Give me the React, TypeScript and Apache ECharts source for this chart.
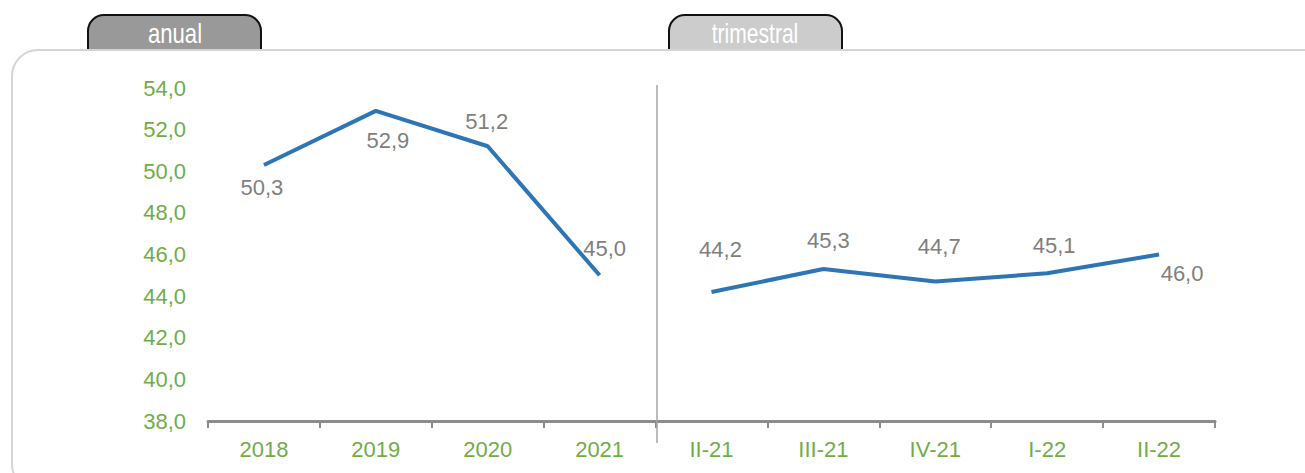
import React, { useEffect, useRef } from "react";
import * as echarts from "echarts";

const categories = ["2018", "2019", "2020", "2021", "II-21", "III-21", "IV-21", "I-22", "II-22"];
const annualValues = [50.3, 52.9, 51.2, 45.0, null, null, null, null, null];
const quarterlyValues = [null, null, null, null, 44.2, 45.3, 44.7, 45.1, 46.0];
const labelOffsets: number[][] = [
  [-2, 22], [12, 30], [-1, -25], [5, -27],
  [9, -42], [5, -29], [4, -35], [7, -28], [23, 19],
];
const yTicks = { min: 38, max: 54, interval: 2 };

const fmt = (v: number) => v.toFixed(1).replace(".", ",");

function buildData(vals: (number | null)[]) {
  return vals.map((v, i) =>
    v === null
      ? null
      : { value: v, label: { offset: labelOffsets[i] } }
  );
}

const FONT = "Liberation Sans, Arial, sans-serif";

export default function App() {
  const ref = useRef<HTMLDivElement>(null);
  useEffect(() => {
    if (!ref.current) return;
    const chart = echarts.init(ref.current, null, { renderer: "svg" });
    const green = "#70ad47";
    const seriesCommon = {
      type: "line" as const,
      symbol: "circle",
      symbolSize: 2,
      showSymbol: true,
      itemStyle: { color: "rgba(0,0,0,0)", borderWidth: 0 },
      lineStyle: { color: "#2e75b6", width: 4 },
      connectNulls: false,
      z: 5,
      label: {
        show: true,
        position: "inside",
        color: "#7f7f7f",
        fontSize: 22,
        fontFamily: FONT,
        formatter: (p: any) => fmt(p.value),
      },
    };
    chart.setOption({
      animation: false,
      grid: { left: 208, right: 90, top: 88, bottom: 52 },
      xAxis: {
        type: "category",
        data: categories,
        axisLine: { lineStyle: { color: "#8c8c8c", width: 3 } },
        axisTick: { show: true, length: 7, lineStyle: { color: "#8c8c8c", width: 2 } },
        axisLabel: {
          color: green,
          fontSize: 22,
          margin: 17,
          fontFamily: FONT,
        },
      },
      yAxis: {
        type: "value",
        min: yTicks.min,
        max: yTicks.max,
        interval: yTicks.interval,
        axisLine: { show: false },
        axisTick: { show: false },
        splitLine: { show: false },
        axisLabel: {
          color: green,
          fontSize: 22,
          margin: 22,
          fontFamily: FONT,
          formatter: (v: number) => fmt(v),
        },
      },
      graphic: [
        {
          type: "rect",
          z: -3,
          shape: { x: 88, y: 15, width: 173, height: 50, r: [16, 16, 0, 0] },
          style: { fill: "#999999", stroke: "#111111", lineWidth: 2 },
        },
        {
          type: "rect",
          z: -3,
          shape: { x: 669, y: 15, width: 173, height: 50, r: [16, 16, 0, 0] },
          style: { fill: "#cccccc", stroke: "#111111", lineWidth: 2 },
        },
        {
          type: "rect",
          z: -2,
          shape: { x: 12, y: 50, width: 1320, height: 440, r: 26 },
          style: { fill: "#ffffff", stroke: "#d4d4d4", lineWidth: 2 },
        },
        {
          type: "text",
          z: -1,
          x: 175,
          y: 34,
          scaleX: 0.82,
          style: {
            text: "anual",
            fill: "#ffffff",
            fontSize: 27,
            fontFamily: FONT,
            align: "center",
            verticalAlign: "middle",
          },
        },
        {
          type: "text",
          z: -1,
          x: 755,
          y: 34,
          scaleX: 0.78,
          style: {
            text: "trimestral",
            fill: "#ffffff",
            fontSize: 27,
            fontFamily: FONT,
            align: "center",
            verticalAlign: "middle",
          },
        },
        {
          type: "line",
          z: 1,
          shape: { x1: 657, y1: 85, x2: 657, y2: 443 },
          style: { stroke: "#a6a6a6", lineWidth: 1.5 },
        },
      ],
      series: [
        { ...seriesCommon, name: "anual", data: buildData(annualValues) },
        { ...seriesCommon, name: "trimestral", data: buildData(quarterlyValues) },
      ],
    });
    return () => chart.dispose();
  }, []);
  return (
    <div
      ref={ref}
      style={{ position: "fixed", left: 0, top: 0, width: 1305, height: 473, background: "#fff" }}
    />
  );
}
